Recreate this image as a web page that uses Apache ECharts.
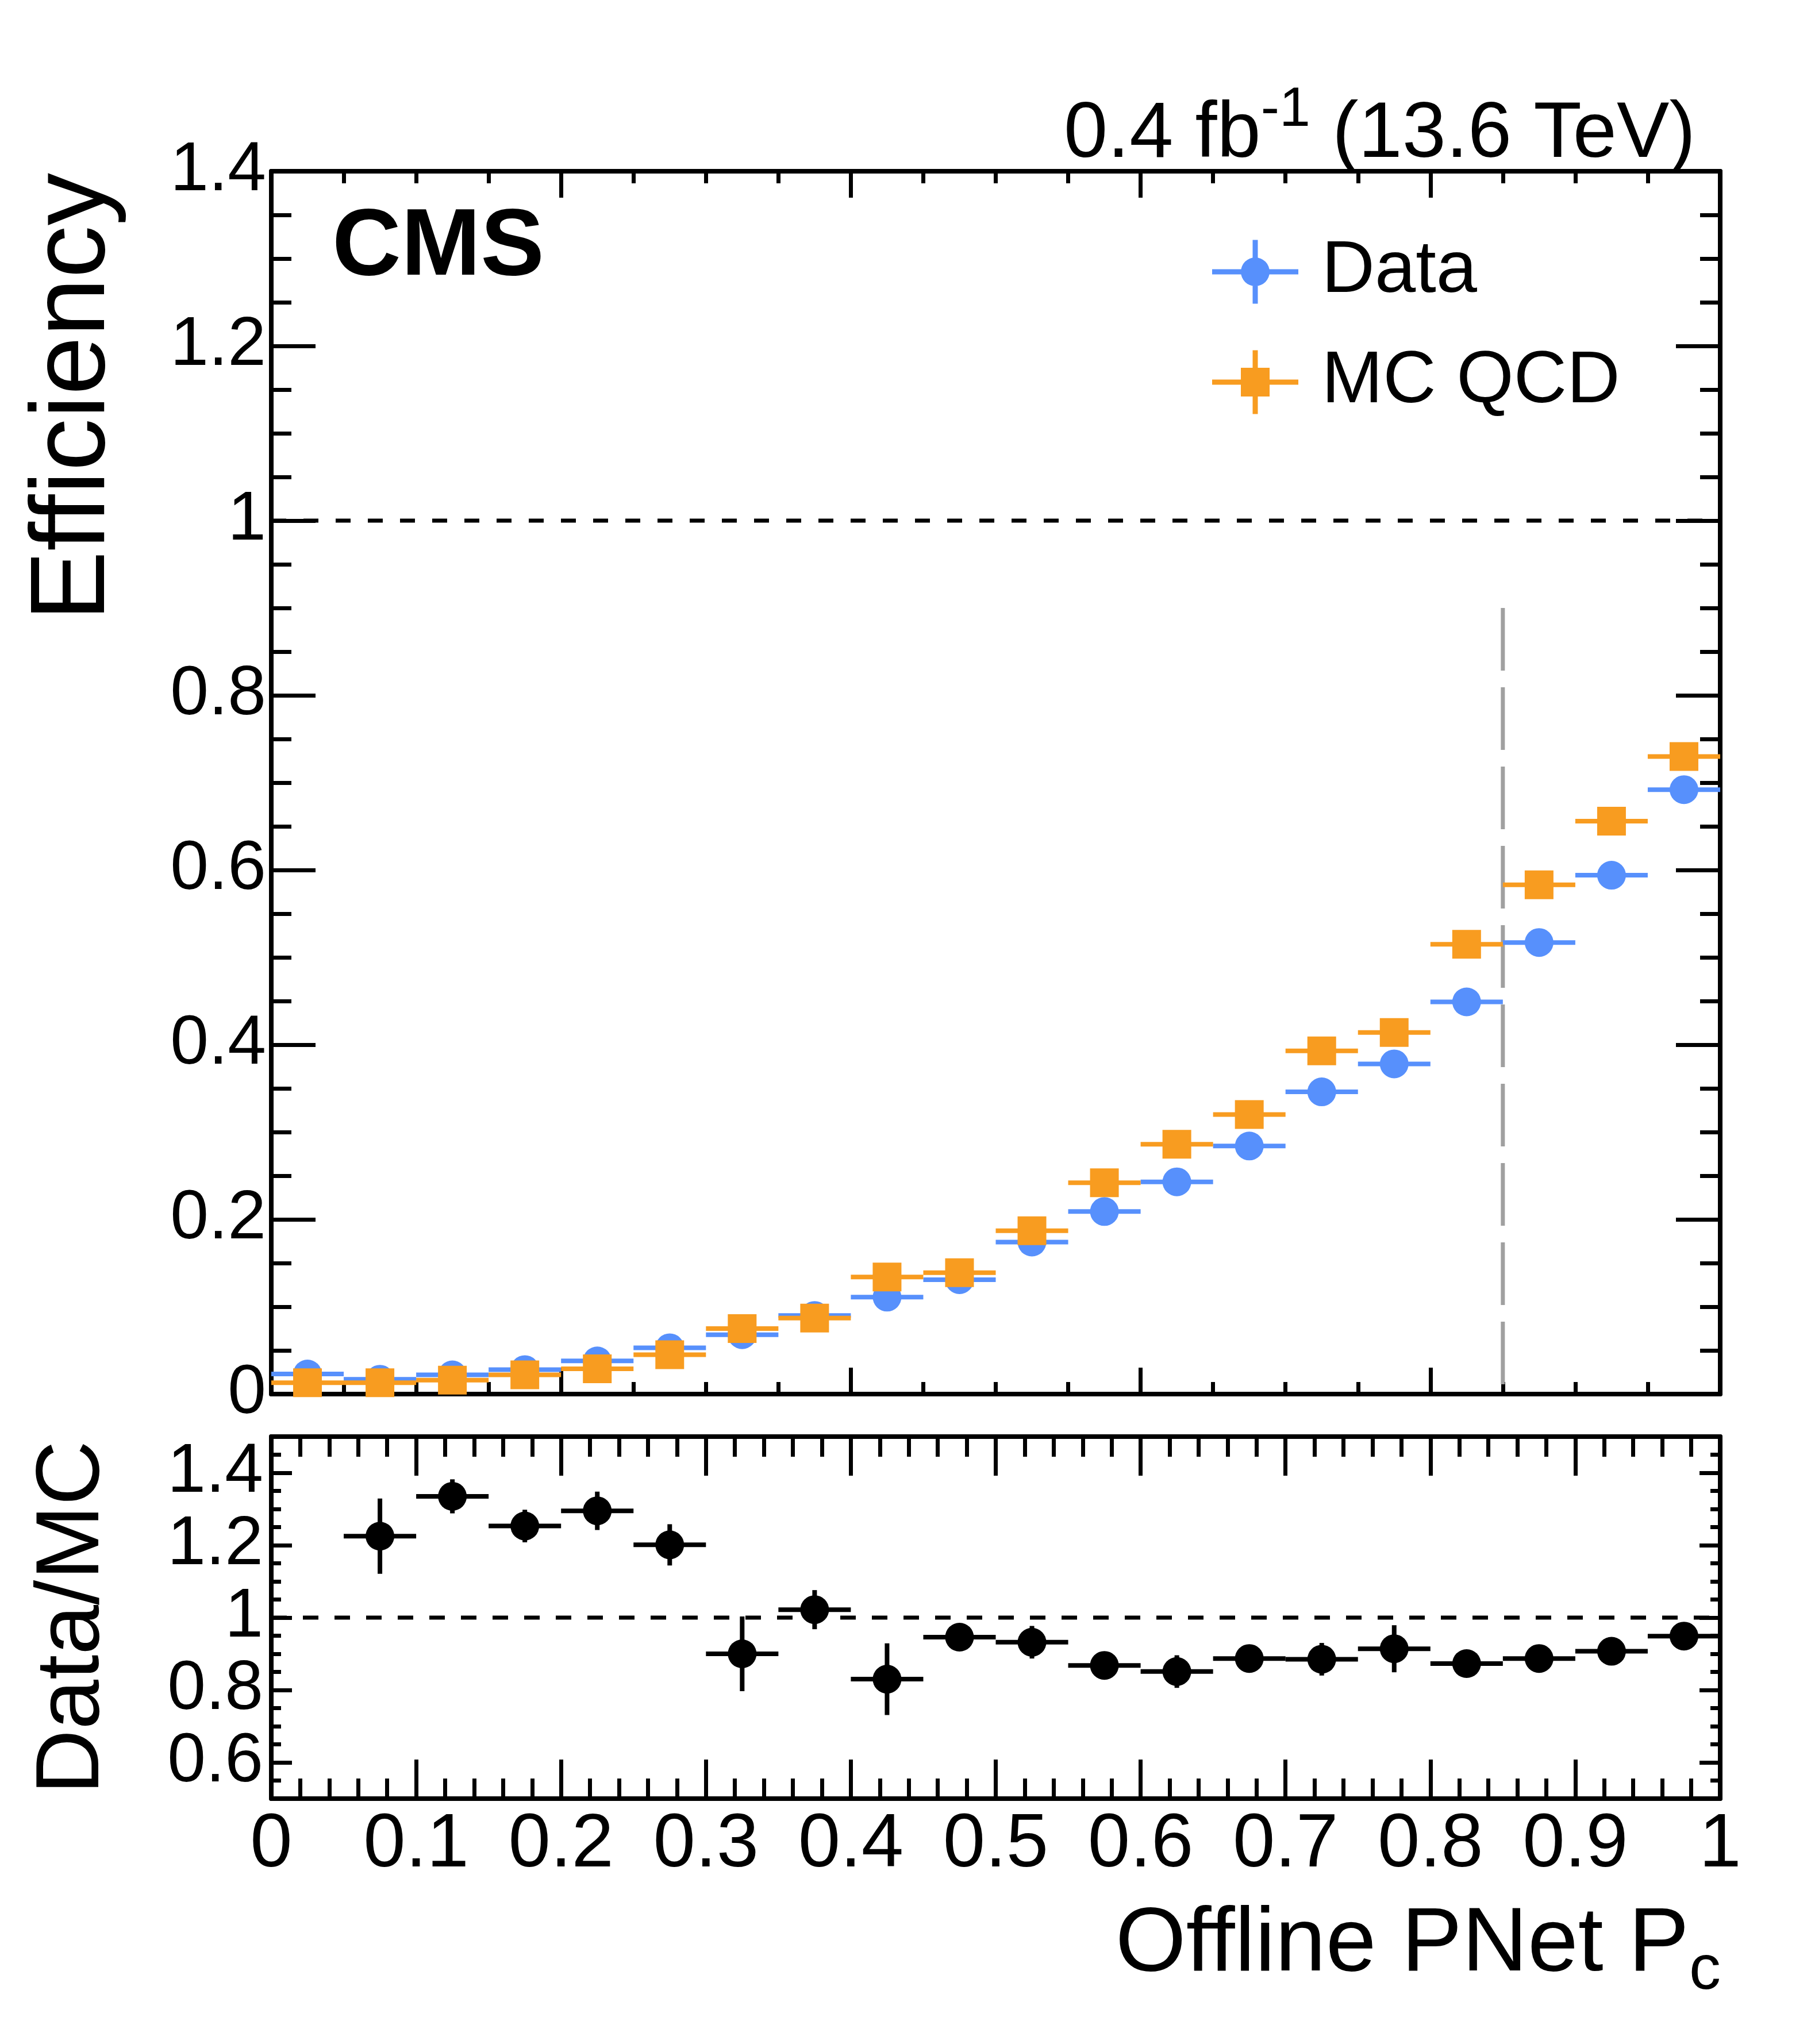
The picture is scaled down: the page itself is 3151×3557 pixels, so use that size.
<!DOCTYPE html>
<html>
<head>
<meta charset="utf-8">
<script src="https://cdn.jsdelivr.net/npm/echarts@6.0.0/dist/echarts.min.js"></script>
<style>
html,body{margin:0;padding:0;background:#ffffff;}
#chart{width:3151px;height:3557px;}
</style>
</head>
<body>
<div id="chart"></div>
<script>
// ---------------- data ----------------
const binCenters = [0.025, 0.075, 0.125, 0.175, 0.225, 0.275, 0.325, 0.375, 0.425, 0.475,
                    0.525, 0.575, 0.625, 0.675, 0.725, 0.775, 0.825, 0.875, 0.925, 0.975];
const binHalfWidth = 0.025;
const dataEff = [0.023, 0.017, 0.022, 0.028, 0.038, 0.053, 0.068, 0.090, 0.111, 0.131,
                 0.174, 0.209, 0.243, 0.284, 0.346, 0.378, 0.449, 0.517, 0.594, 0.692];
const mcEff   = [0.013, 0.013, 0.016, 0.022, 0.029, 0.045, 0.075, 0.087, 0.134, 0.139,
                 0.187, 0.242, 0.286, 0.320, 0.393, 0.414, 0.515, 0.583, 0.656, 0.730];
const ratioX   = [0.075, 0.125, 0.175, 0.225, 0.275, 0.325, 0.375, 0.425, 0.475, 0.525,
                  0.575, 0.625, 0.675, 0.725, 0.775, 0.825, 0.875, 0.925, 0.975];
const ratioVal = [1.225, 1.335, 1.253, 1.295, 1.201, 0.900, 1.022, 0.830, 0.946, 0.932,
                  0.868, 0.851, 0.887, 0.885, 0.914, 0.873, 0.887, 0.907, 0.949];
const ratioErr = [0.104, 0.047, 0.045, 0.053, 0.057, 0.103, 0.054, 0.099, 0.025, 0.045,
                  0.025, 0.045, 0.025, 0.045, 0.065, 0.022, 0.022, 0.022, 0.022];
const ratioTickValues = [0.6, 0.8, 1.0, 1.2, 1.4];
const unityLine = [[0, 1], [1, 1]];
const wpCutLine = [[0.85, 0.9], [0.85, 0]];

// ---------------- style ----------------
const FONT = "'Liberation Sans', Arial, Helvetica, sans-serif";
const BLUE = '#5790fc';
const ORANGE = '#f89c20';
const AXW = 8, TKW = 7, ERRW = 8;

const fmt = v => String(+(+v).toFixed(3));

function errRender(color) {
  return function (params, api) {
    const x = api.value(0), y = api.value(1), xe = api.value(2), ye = api.value(3);
    const a = api.coord([x - xe, y]), b = api.coord([x + xe, y]);
    const children = [{
      type: 'line', shape: {x1: a[0], y1: a[1], x2: b[0], y2: b[1]},
      style: {stroke: color, lineWidth: ERRW}
    }];
    if (ye > 0) {
      const c = api.coord([x, y - ye]), d = api.coord([x, y + ye]);
      children.push({
        type: 'line', shape: {x1: c[0], y1: c[1], x2: d[0], y2: d[1]},
        style: {stroke: color, lineWidth: ERRW}
      });
    }
    return {type: 'group', children: children};
  };
}

function xAx(grid, pos, interval, split, majLen, minLen, showLabel) {
  return {
    type: 'value', gridIndex: grid, position: pos, min: 0, max: 1, interval: interval,
    axisLine: {show: true, onZero: false, lineStyle: {color: '#000', width: AXW}},
    axisTick: {show: true, inside: true, length: majLen, lineStyle: {color: '#000', width: TKW}},
    minorTick: {show: true, splitNumber: split, length: minLen, lineStyle: {color: '#000', width: TKW}},
    axisLabel: {show: showLabel, margin: 16, fontSize: 132, fontFamily: FONT, color: '#000', formatter: fmt},
    splitLine: {show: false}, minorSplitLine: {show: false}
  };
}

const dataErr = binCenters.map((x, i) => [x, dataEff[i], binHalfWidth, 0]);
const mcErr = binCenters.map((x, i) => [x, mcEff[i], binHalfWidth, 0]);
const ratioErrData = ratioX.map((x, i) => [x, ratioVal[i], binHalfWidth, ratioErr[i]]);

const iconData = 'path://M0,51 L150,51 L150,60 L0,60 Z M70.5,0 L79.5,0 L79.5,111 L70.5,111 Z M100,55.5 A25,25 0 1,1 50,55.5 A25,25 0 1,1 100,55.5 Z';
const iconMC = 'path://M0,51 L150,51 L150,60 L0,60 Z M70.5,0 L79.5,0 L79.5,111 L70.5,111 Z M50,30.5 L100,30.5 L100,80.5 L50,80.5 Z';

const chart = echarts.init(document.getElementById('chart'), null, {renderer: 'canvas'});

const option = {
  animation: false,
  backgroundColor: '#ffffff',
  textStyle: {fontFamily: FONT},
  grid: [
    {left: 472, top: 298, width: 2521, height: 2128, outerBoundsMode: 'none', containLabel: false},
    {left: 472, top: 2500, width: 2521, height: 630, outerBoundsMode: 'none', containLabel: false}
  ],
  xAxis: [
    xAx(0, 'bottom', 0.2, 4, 46, 21, false),
    xAx(0, 'top', 0.2, 4, 46, 21, false),
    xAx(1, 'bottom', 0.1, 5, 68, 35, true),
    xAx(1, 'top', 0.1, 5, 68, 35, false)
  ],
  yAxis: [
    { // 0 upper left
      type: 'value', gridIndex: 0, position: 'left', min: 0, max: 1.4, interval: 0.2,
      axisLine: {show: true, onZero: false, lineStyle: {color: '#000', width: AXW}},
      axisTick: {show: true, inside: true, length: 77, lineStyle: {color: '#000', width: TKW}},
      minorTick: {show: true, splitNumber: 4, length: 35, lineStyle: {color: '#000', width: TKW}},
      axisLabel: {show: true, margin: 9, fontSize: 120, fontFamily: FONT, color: '#000', formatter: fmt},
      splitLine: {show: false}
    },
    { // 1 upper right
      type: 'value', gridIndex: 0, position: 'right', min: 0, max: 1.4, interval: 0.2,
      axisLine: {show: true, onZero: false, lineStyle: {color: '#000', width: AXW}},
      axisTick: {show: true, inside: true, length: 77, lineStyle: {color: '#000', width: TKW}},
      minorTick: {show: true, splitNumber: 4, length: 35, lineStyle: {color: '#000', width: TKW}},
      axisLabel: {show: false},
      splitLine: {show: false}
    },
    { // 2 lower left major
      type: 'value', gridIndex: 1, position: 'left', min: 0.5, max: 1.5, interval: 0.1,
      axisLine: {show: true, onZero: false, lineStyle: {color: '#000', width: AXW}},
      axisTick: {show: true, inside: true, length: 36, customValues: ratioTickValues, lineStyle: {color: '#000', width: TKW}},
      axisLabel: {show: true, margin: 14, fontSize: 120, fontFamily: FONT, color: '#000', customValues: ratioTickValues, formatter: fmt},
      splitLine: {show: false}
    },
    { // 3 lower left minor
      type: 'value', gridIndex: 1, position: 'left', min: 0.5, max: 1.5, interval: 0.05,
      axisLine: {show: false, onZero: false},
      axisTick: {show: true, inside: true, length: 17, lineStyle: {color: '#000', width: TKW}},
      axisLabel: {show: false},
      splitLine: {show: false}
    },
    { // 4 lower right major
      type: 'value', gridIndex: 1, position: 'right', min: 0.5, max: 1.5, interval: 0.1,
      axisLine: {show: true, onZero: false, lineStyle: {color: '#000', width: AXW}},
      axisTick: {show: true, inside: true, length: 36, customValues: ratioTickValues, lineStyle: {color: '#000', width: TKW}},
      axisLabel: {show: false},
      splitLine: {show: false}
    },
    { // 5 lower right minor
      type: 'value', gridIndex: 1, position: 'right', min: 0.5, max: 1.5, interval: 0.05,
      axisLine: {show: false, onZero: false},
      axisTick: {show: true, inside: true, length: 17, lineStyle: {color: '#000', width: TKW}},
      axisLabel: {show: false},
      splitLine: {show: false}
    }
  ],
  legend: {
    show: true, orient: 'vertical', left: 2104, top: 404,
    itemWidth: 150, itemHeight: 111, itemGap: 64, selectedMode: false,
    formatter: name => ' ' + name,
    textStyle: {fontSize: 128, fontFamily: FONT, color: '#000'},
    data: [{name: 'Data', icon: iconData}, {name: 'MC QCD', icon: iconMC}]
  },
  series: [
    {
      name: 'unity-top', type: 'line', xAxisIndex: 0, yAxisIndex: 0, data: unityLine,
      symbol: 'none', silent: true, z: 1,
      lineStyle: {color: '#000', width: 7, type: [26, 30]}
    },
    {
      name: 'wp-cut', type: 'line', xAxisIndex: 0, yAxisIndex: 0, data: wpCutLine,
      symbol: 'none', silent: true, z: 1,
      lineStyle: {color: '#a0a0a0', width: 7, type: [109, 29]}
    },
    {
      name: 'Data-err', type: 'custom', xAxisIndex: 0, yAxisIndex: 0, z: 2,
      dimensions: ['x', 'y', 'xe', 'ye'], encode: {x: 0, y: 1},
      renderItem: errRender(BLUE), data: dataErr, silent: true
    },
    {
      name: 'Data', type: 'scatter', xAxisIndex: 0, yAxisIndex: 0, z: 3,
      symbol: 'circle', symbolSize: 50, itemStyle: {color: BLUE, opacity: 1},
      data: binCenters.map((x, i) => [x, dataEff[i]]), silent: true
    },
    {
      name: 'MC-err', type: 'custom', xAxisIndex: 0, yAxisIndex: 0, z: 4,
      dimensions: ['x', 'y', 'xe', 'ye'], encode: {x: 0, y: 1},
      renderItem: errRender(ORANGE), data: mcErr, silent: true
    },
    {
      name: 'MC QCD', type: 'scatter', xAxisIndex: 0, yAxisIndex: 0, z: 5,
      symbol: 'rect', symbolSize: 50, itemStyle: {color: ORANGE, opacity: 1},
      data: binCenters.map((x, i) => [x, mcEff[i]]), silent: true
    },
    {
      name: 'unity-bottom', type: 'line', xAxisIndex: 2, yAxisIndex: 2, data: unityLine,
      symbol: 'none', silent: true, z: 1,
      lineStyle: {color: '#000', width: 7, type: [27, 28]}
    },
    {
      name: 'Ratio-err', type: 'custom', xAxisIndex: 2, yAxisIndex: 2, z: 2,
      dimensions: ['x', 'y', 'xe', 'ye'], encode: {x: 0, y: 1},
      renderItem: errRender('#000'), data: ratioErrData, silent: true
    },
    {
      name: 'Ratio', type: 'scatter', xAxisIndex: 2, yAxisIndex: 2, z: 3,
      symbol: 'circle', symbolSize: 50, itemStyle: {color: '#000', opacity: 1},
      data: ratioX.map((x, i) => [x, ratioVal[i]]), silent: true
    }
  ],
  graphic: [
    {
      type: 'text', x: 2950, y: 224, silent: true,
      style: {
        text: '{a|0.4 fb}{s|-1}{a| (13.6 TeV)}',
        align: 'right', verticalAlign: 'middle', fill: '#000',
        rich: {
          a: {fontSize: 137, lineHeight: 160, verticalAlign: 'bottom', fontFamily: FONT, fill: '#000'},
          s: {fontSize: 97, lineHeight: 62, verticalAlign: 'top', fontFamily: FONT, fill: '#000'}
        }
      }
    },
    {
      type: 'text', x: 578, y: 432, silent: true,
      style: {
        text: 'CMS', align: 'left', verticalAlign: 'middle', fill: '#000',
        fontSize: 166, fontWeight: 'bold', fontFamily: FONT
      }
    },
    {
      type: 'text', x: 131, y: 301, rotation: Math.PI / 2, silent: true,
      style: {
        text: 'Efficiency', align: 'right', verticalAlign: 'middle', fill: '#000',
        fontSize: 183, fontFamily: FONT
      }
    },
    {
      type: 'text', x: 128, y: 2507, rotation: Math.PI / 2, silent: true,
      style: {
        text: 'Data/MC', align: 'right', verticalAlign: 'middle', fill: '#000',
        fontSize: 156, fontFamily: FONT
      }
    },
    {
      type: 'text', x: 2994, y: 3396, silent: true,
      style: {
        text: '{a|Offline PNet P}{s|c}',
        align: 'right', verticalAlign: 'middle', fill: '#000',
        rich: {
          a: {fontSize: 158, lineHeight: 180, verticalAlign: 'top', fontFamily: FONT, fill: '#000'},
          s: {fontSize: 110, lineHeight: 62, verticalAlign: 'bottom', fontFamily: FONT, fill: '#000'}
        }
      }
    }
  ]
};

chart.setOption(option);
</script>
</body>
</html>
